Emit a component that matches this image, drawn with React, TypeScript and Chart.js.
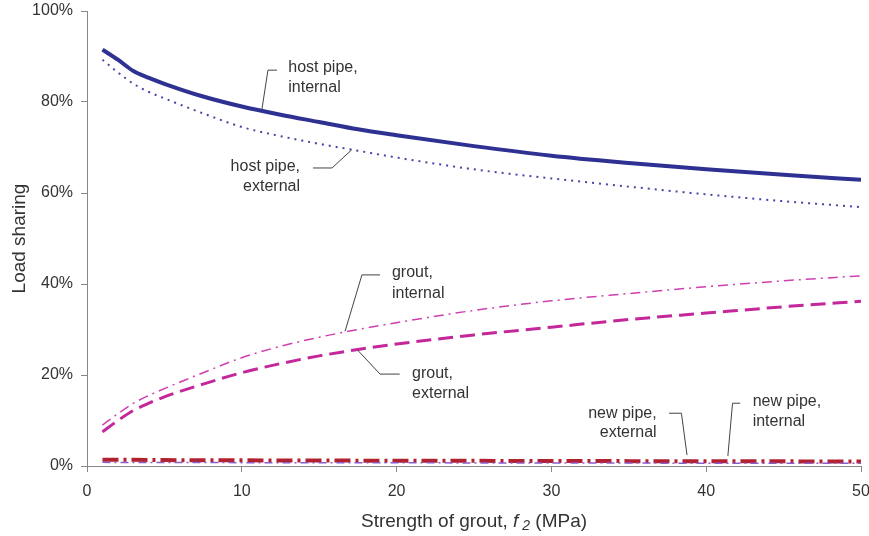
import React, { useEffect, useRef } from "react";
import { Chart, registerables } from "chart.js";

Chart.register(...registerables);

const xs = [1, 2, 3, 4, 5, 7.5, 10, 12.5, 15, 17.5, 20, 25, 30, 35, 40, 45, 50];
const hostInternal = [91.5, 89.3, 86.8, 85.3, 84.0, 81.2, 79.0, 77.2, 75.6, 74.0, 72.7, 70.3, 68.2, 66.6, 65.2, 64.0, 62.9];
const hostExternal = [89.3, 86.5, 84.0, 82.2, 80.8, 77.5, 74.5, 72.5, 70.8, 69.3, 67.8, 65.2, 63.2, 61.4, 59.7, 58.2, 56.9];
const groutInternal = [9.0, 11.5, 13.8, 15.5, 17.0, 20.5, 23.8, 26.3, 28.3, 30.0, 31.5, 34.2, 36.3, 37.9, 39.4, 40.7, 41.8];
const groutExternal = [7.5, 10.0, 12.2, 13.8, 15.2, 18.0, 20.5, 22.5, 24.2, 25.6, 26.8, 28.8, 30.5, 32.2, 33.6, 35.0, 36.2];
const newInternal = [1.4, 1.38, 1.35, 1.33, 1.3, 1.27, 1.25, 1.22, 1.2, 1.18, 1.16, 1.13, 1.1, 1.07, 1.05, 1.02, 1.0];
const newExternal = [0.8, 0.79, 0.78, 0.77, 0.76, 0.75, 0.74, 0.73, 0.72, 0.71, 0.7, 0.68, 0.66, 0.64, 0.62, 0.6, 0.58];

const yTicks = [0, 20, 40, 60, 80, 100];
const xTicks = [0, 10, 20, 30, 40, 50];

// annotation labels: text lines, anchor (data coords), alignment, leader polyline (data coords)
const annotations = [
  { lines: ["host pipe,", "internal"], x: 13.0, y: [87.5, 83.1], align: "left", leader: [[12.27, 87.0], [11.69, 87.0], [11.3, 78.4]] },
  { lines: ["host pipe,", "external"], x: 13.76, y: [65.7, 61.3], align: "right", leader: [[14.6, 65.5], [15.83, 65.5], [17.1, 69.5]] },
  { lines: ["grout,", "internal"], x: 19.7, y: [42.4, 38.0], align: "left", leader: [[18.93, 42.0], [17.76, 42.0], [16.67, 29.6]] },
  { lines: ["grout,", "external"], x: 21.0, y: [20.4, 16.0], align: "left", leader: [[20.2, 20.2], [18.93, 20.2], [17.5, 25.4]] },
  { lines: ["new pipe,", "external"], x: 36.8, y: [11.6, 7.3], align: "right", leader: [[37.6, 11.6], [38.4, 11.6], [38.76, 2.4]] },
  { lines: ["new pipe,", "internal"], x: 43.0, y: [14.1, 9.7], align: "left", leader: [[42.2, 13.8], [41.7, 13.8], [41.4, 2.2]] },
];

const FONT = "'Liberation Sans', Arial, sans-serif";
const TEXT = "#333333";

const pts = (ys: number[]) => xs.map((x, i) => ({ x, y: ys[i] }));

const annotationPlugin = {
  id: "annots",
  afterDatasetsDraw(chart: any) {
    const { ctx, scales } = chart;
    const sx = scales.x, sy = scales.y;
    ctx.save();
    ctx.font = `16px ${FONT}`;
    ctx.fillStyle = TEXT;
    ctx.strokeStyle = "#444444";
    ctx.lineWidth = 1;
    ctx.textBaseline = "middle";
    for (const a of annotations) {
      ctx.textAlign = a.align;
      a.lines.forEach((t, i) => {
        ctx.fillText(t, sx.getPixelForValue(a.x), sy.getPixelForValue(a.y[i]));
      });
      ctx.beginPath();
      a.leader.forEach((p, i) => {
        const px = sx.getPixelForValue(p[0]);
        const py = sy.getPixelForValue(p[1]);
        if (i === 0) ctx.moveTo(px, py);
        else ctx.lineTo(px, py);
      });
      ctx.stroke();
    }
    // x axis title with italic f and subscript 2
    const parts = [
      { t: "Strength of grout, ", f: `19px ${FONT}`, dy: 0 },
      { t: "f", f: `italic 19px ${FONT}`, dy: 0 },
      { t: " 2", f: `italic 14px ${FONT}`, dy: 4 },
      { t: " (MPa)", f: `19px ${FONT}`, dy: 0 },
    ];
    let total = 0;
    for (const p of parts) { ctx.font = p.f; total += ctx.measureText(p.t).width; }
    let cx = (chart.chartArea.left + chart.chartArea.right) / 2 - total / 2;
    const cy = 522;
    ctx.textAlign = "left";
    for (const p of parts) {
      ctx.font = p.f;
      ctx.fillText(p.t, cx, cy + p.dy);
      cx += ctx.measureText(p.t).width;
    }
    ctx.restore();
  },
};

export default function App() {
  const ref = useRef<HTMLCanvasElement>(null);
  useEffect(() => {
    document.body.style.margin = "0";
    const chart = new Chart(ref.current!, {
      type: "line",
      data: {
        datasets: [
          { label: "host pipe, internal", data: pts(hostInternal), borderColor: "#2e3192", borderWidth: 4, pointRadius: 0, cubicInterpolationMode: "monotone" },
          { label: "host pipe, external", data: pts(hostExternal), borderColor: "#4646aa", borderWidth: 2, borderDash: [2, 5], pointRadius: 0, cubicInterpolationMode: "monotone" },
          { label: "grout, internal", data: pts(groutInternal), borderColor: "#d03fb0", borderWidth: 1.5, borderDash: [10, 5, 2, 5], pointRadius: 0, cubicInterpolationMode: "monotone" },
          { label: "grout, external", data: pts(groutExternal), borderColor: "#c3279a", borderWidth: 3, borderDash: [15, 7], pointRadius: 0, cubicInterpolationMode: "monotone" },
          { label: "new pipe, external", data: pts(newExternal), borderColor: "#8a5ccc", borderWidth: 1.5, borderDash: [8, 4, 2, 4], pointRadius: 0 },
          { label: "new pipe, internal", data: pts(newInternal), borderColor: "#b2212f", borderWidth: 4, borderDash: [16, 5, 3, 5], pointRadius: 0 },
        ],
      } as any,
      options: {
        animation: false,
        responsive: false,
        layout: { padding: { top: 11, right: 8, left: 0, bottom: 0 } },
        plugins: { legend: { display: false }, tooltip: { enabled: false } },
        scales: {
          x: {
            type: "linear",
            min: 0,
            max: 50,
            afterBuildTicks: (s: any) => { s.ticks = xTicks.map((v) => ({ value: v })); },
            afterFit: (s: any) => { s.height = 70; s.paddingLeft = 0; s.paddingRight = 0; },
            grid: { drawOnChartArea: false, drawTicks: true, tickLength: 6, color: "#888888" },
            border: { color: "#888888", width: 1 },
            ticks: { color: TEXT, font: { family: FONT, size: 16 }, padding: 10, maxRotation: 0 },
          },
          y: {
            type: "linear",
            min: 0,
            max: 100,
            afterBuildTicks: (s: any) => { s.ticks = yTicks.map((v) => ({ value: v })); },
            afterFit: (s: any) => { s.width = 87; s.paddingTop = 0; s.paddingBottom = 0; },
            grid: { drawOnChartArea: false, drawTicks: true, tickLength: 6, color: "#888888" },
            border: { color: "#888888", width: 1 },
            ticks: { color: TEXT, font: { family: FONT, size: 16 }, padding: 8, callback: (v: any) => v + "%" },
            title: { display: true, text: "Load sharing", color: TEXT, font: { family: FONT, size: 19 }, padding: { top: 8, bottom: 8 } },
          },
        },
      } as any,
      plugins: [annotationPlugin],
    });
    return () => chart.destroy();
  }, []);
  return (
    <div style={{ width: 869, height: 536 }}>
      <canvas ref={ref} width={869} height={536} />
    </div>
  );
}
